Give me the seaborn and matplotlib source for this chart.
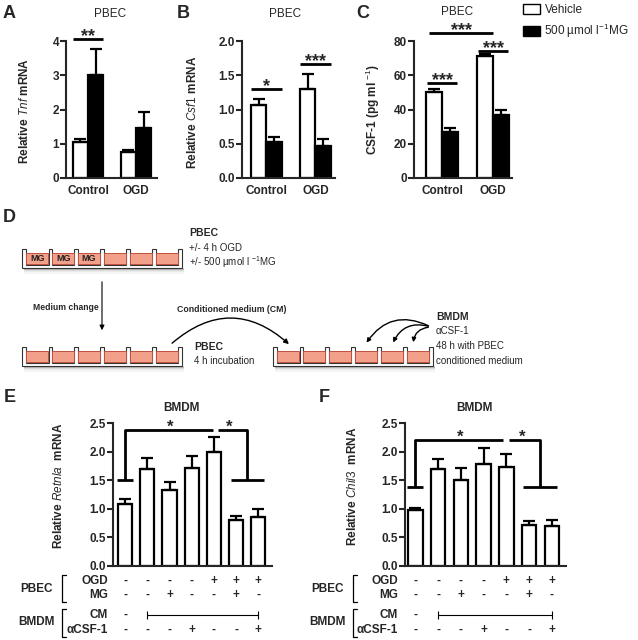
import numpy as np
import pandas as pd
import seaborn as sns
import matplotlib
matplotlib.use('Agg')
import matplotlib.pyplot as plt
from matplotlib.patches import Rectangle, Polygon, FancyArrowPatch, Patch
from matplotlib.transforms import blended_transform_factory

# ---- data ----
groups = ['Control', 'OGD']
treatments = ['Vehicle', 'MG']

# order: Control-Vehicle, Control-MG, OGD-Vehicle, OGD-MG
tnf_mean = [1.05, 3.02, 0.75, 1.45]
tnf_sem = [0.08, 0.75, 0.07, 0.48]
csf1_mean = [1.06, 0.52, 1.30, 0.47]
csf1_sem = [0.10, 0.08, 0.22, 0.10]
csf_prot_mean = [50.0, 27.0, 71.0, 36.5]
csf_prot_sem = [2.0, 2.0, 1.2, 3.5]

bmdm_idx = [0, 1, 2, 3, 4, 5, 6]
retnla_mean = [1.09, 1.69, 1.33, 1.71, 1.99, 0.80, 0.86]
retnla_sem = [0.08, 0.20, 0.13, 0.21, 0.27, 0.07, 0.14]
chil3_mean = [0.98, 1.69, 1.51, 1.79, 1.73, 0.71, 0.70]
chil3_sem = [0.04, 0.18, 0.20, 0.28, 0.22, 0.07, 0.10]

ogd_row = ['-', '-', '-', '-', '+', '+', '+']
mg_row = ['-', '-', '+', '-', '-', '+', '-']
acsf_row = ['-', '-', '-', '+', '-', '-', '+']

sns.set_style('ticks')
plt.rcParams['font.family'] = ['Liberation Sans', 'DejaVu Sans']
plt.rcParams['mathtext.fontset'] = 'custom'
plt.rcParams['mathtext.rm'] = 'Liberation Sans'
plt.rcParams['mathtext.it'] = 'Liberation Sans:italic'
plt.rcParams['mathtext.bf'] = 'Liberation Sans:bold'

W, H = 638, 640
fig = plt.figure(figsize=(W / 100, H / 100), dpi=100)

# overlay in pixel coordinates for schematic / annotations
ov = fig.add_axes([0, 0, 1, 1], zorder=5)
ov.set_xlim(0, W)
ov.set_ylim(H, 0)
ov.axis('off')
ov.patch.set_alpha(0)


def ax_px(left, top, right, bottom):
    return fig.add_axes([left / W, 1 - bottom / H, (right - left) / W, (bottom - top) / H])


def style(ax, yticks, fmt):
    sns.despine(ax=ax)
    for s in ['left', 'bottom']:
        ax.spines[s].set_linewidth(1.5)
    ax.set_yticks(yticks)
    ax.set_yticklabels([fmt.format(v) for v in yticks], fontsize=8.5, fontweight='bold')
    ax.tick_params(axis='y', length=4, width=1.5, pad=1)
    ax.tick_params(axis='x', length=0, pad=5)
    ax.set_xlabel('')


def pair_bars(ax, values, sems):
    df = pd.DataFrame({'group': np.repeat(groups, 2), 'treat': treatments * 2, 'val': values})
    sns.barplot(df, x='group', y='val', hue='treat', hue_order=treatments,
                palette={'Vehicle': 'white', 'MG': 'black'}, edgecolor='black',
                linewidth=1.6, width=0.64, errorbar=None, legend=False, ax=ax)
    ps = sorted(ax.patches, key=lambda p: p.get_x())
    xs = [p.get_x() + p.get_width() / 2 for p in ps]
    ax.errorbar(xs, values, yerr=[np.zeros(len(values)), sems], fmt='none',
                ecolor='black', elinewidth=1.6, capsize=4.5, capthick=1.6)
    for lab in ax.get_xticklabels():
        lab.set_fontsize(8.5)
        lab.set_fontweight('bold')


def stars(ax, x, y, txt, size=13):
    ax.annotate(txt, (x, y), xytext=(0, -1.2), textcoords='offset points', ha='center',
                va='baseline', fontsize=size, fontweight='bold', annotation_clip=False)


def sig(ax, x1, x2, y, txt):
    ax.plot([x1, x2], [y, y], color='black', lw=2, clip_on=False, solid_capstyle='butt')
    stars(ax, (x1 + x2) / 2, y, txt)


def set_ylab(ax, text, box, xpx, ypx):
    left, top, right, bottom = box
    ax.set_ylabel(text, fontsize=8.5, fontweight='bold')
    ax.yaxis.set_label_coords((xpx - left) / (right - left), (bottom - ypx) / (bottom - top))


# ---- panel A ----
boxA = (66, 41, 157, 178)
axA = ax_px(*boxA)
pair_bars(axA, tnf_mean, tnf_sem)
axA.set_xlim(-0.46, 1.44)
axA.set_ylim(0, 4)
style(axA, [0, 1, 2, 3, 4], '{:.0f}')
set_ylab(axA, r'Relative $\mathit{Tnf}$ mRNA', boxA, 31, 111)
sig(axA, -0.31, 0.31, 4.05, '**')

# ---- panel B ----
boxB = (242, 41, 335, 178)
axB = ax_px(*boxB)
pair_bars(axB, csf1_mean, csf1_sem)
axB.set_xlim(-0.5, 1.40)
axB.set_ylim(0, 2)
style(axB, [0, 0.5, 1.0, 1.5, 2.0], '{:.1f}')
set_ylab(axB, r'Relative $\mathit{Csf1}$ mRNA', boxB, 199, 112)
sig(axB, -0.32, 0.32, 1.30, '*')
sig(axB, 0.68, 1.32, 1.66, '***')

# ---- panel C ----
boxC = (414, 41, 512, 178)
axC = ax_px(*boxC)
pair_bars(axC, csf_prot_mean, csf_prot_sem)
axC.set_xlim(-0.55, 1.37)
axC.set_ylim(0, 80)
style(axC, [0, 20, 40, 60, 80], '{:.0f}')
set_ylab(axC, r'CSF-1 (pg ml $^{-1}$)', boxC, 382, 110)
sig(axC, -0.3, 0.3, 55.5, '***')
sig(axC, 0.7, 1.3, 74.0, '***')
sig(axC, -0.25, 1.0, 84.7, '***')

fig.legend([Patch(fc='white', ec='black', lw=1), Patch(fc='black', ec='black')],
           ['Vehicle', r'500 µmol l$^{-1}$MG'], loc='upper left',
           bbox_to_anchor=(512 / W, 1.01), frameon=False, fontsize=8.5,
           handlelength=1.5, handleheight=0.9, handletextpad=0.35, labelspacing=0.5)

# titles and panel letters
for x, y, t in [(110, 14, 'PBEC'), (285, 14, 'PBEC'), (457, 12, 'PBEC')]:
    ov.text(x, y, t, ha='center', va='center', fontsize=8.5)
for x, y, t in [(181, 408, 'BMDM'), (474, 408, 'BMDM')]:
    ov.text(x, y, t, ha='center', va='center', fontsize=8.5, fontweight='bold')
for x, y, t in [(3, 13, 'A'), (177, 13, 'B'), (356, 13, 'C'), (3, 218, 'D'),
                (4, 397, 'E'), (319, 397, 'F')]:
    ov.text(x, y, t, ha='left', va='center', fontsize=13, fontweight='bold')


# ---- panel D schematic ----
def plate(x0, y0, mg_wells=0):
    pw, ph, wall, div, nw = 160, 19, 4, 3.4, 6
    ww = (pw - 2 * wall - (nw - 1) * div) / nw
    floor = y0 + 15.5
    for k, a in enumerate([0.35, 0.25, 0.15, 0.07]):
        ov.add_patch(Rectangle((x0 + 2, y0 + ph + k * 1.3), pw, 1.6, fc='0.45',
                               ec='none', alpha=a))
    pts = [(x0, y0), (x0, y0 + ph), (x0 + pw, y0 + ph), (x0 + pw, y0)]
    for i in range(nw - 1, -1, -1):
        xl = x0 + wall + i * (ww + div)
        pts += [(xl + ww, y0), (xl + ww, floor), (xl, floor), (xl, y0)]
    ov.add_patch(Polygon(pts, closed=True, fc='white', ec='#333333', lw=0.8))
    for i in range(nw):
        xl = x0 + wall + i * (ww + div)
        ov.add_patch(Rectangle((xl + 0.4, y0 + 4), ww - 0.8, floor - y0 - 4.4,
                               fc='#f2a08a', ec='#c0503d', lw=0.7))
        if i < mg_wells:
            ov.text(xl + ww / 2, y0 + 9.8, 'MG', ha='center', va='center',
                    fontsize=6.5, fontweight='bold', color='#222222')


plate(22, 249, mg_wells=3)
plate(22, 347)
plate(273, 347)

ov.text(189, 233, 'PBEC', fontsize=7.5, fontweight='bold', va='center')
ov.text(189, 248, '+/- 4 h OGD', fontsize=7, va='center')
ov.text(189, 262, r'+/- 500 µmol l $^{-1}$MG', fontsize=7, va='center')
ov.text(33, 308, 'Medium change', fontsize=6.2, fontweight='bold', va='center')
ov.text(177, 309, 'Conditioned medium (CM)', fontsize=6.3, fontweight='bold', va='center')
ov.text(194, 347, 'PBEC', fontsize=7.5, fontweight='bold', va='center')
ov.text(194, 361, '4 h incubation', fontsize=7, va='center')
ov.text(436, 317, 'BMDM', fontsize=7.5, fontweight='bold', va='center')
ov.text(436, 331, 'αCSF-1', fontsize=7, va='center')
ov.text(436, 346, '48 h with PBEC', fontsize=7, va='center')
ov.text(436, 361, 'conditioned medium', fontsize=7, va='center')

ov.add_patch(FancyArrowPatch((102, 279), (102, 333), arrowstyle='-|>', mutation_scale=7,
                             color='black', lw=0.8))
ov.add_patch(FancyArrowPatch((170, 345), (291, 346), connectionstyle='arc3,rad=-0.45',
                             arrowstyle='-|>', mutation_scale=7, color='black', lw=1))
for tx in [365, 392, 413]:
    ov.add_patch(FancyArrowPatch((431, 327), (tx, 345), connectionstyle='arc3,rad=0.45',
                                 arrowstyle='-|>', mutation_scale=6, color='black', lw=1))


# ---- panels E, F ----
def bmdm_panel(box, xlim, means, sems, ylab, labx, br1, br2, star1, star2, ybr, ylow):
    ax = ax_px(*box)
    df = pd.DataFrame({'cond': bmdm_idx, 'val': means})
    sns.barplot(df, x='cond', y='val', color='white', edgecolor='black', linewidth=1.6,
                width=0.64, errorbar=None, ax=ax)
    ax.errorbar(bmdm_idx, means, yerr=[np.zeros(7), sems], fmt='none', ecolor='black',
                elinewidth=1.6, capsize=4.5, capthick=1.6)
    ax.set_xlim(*xlim)
    ax.set_ylim(0, 2.5)
    style(ax, [0, 0.5, 1.0, 1.5, 2.0, 2.5], '{:.1f}')
    ax.set_xticks([])
    set_ylab(ax, ylab, box, labx, 486)
    kw = dict(color='black', lw=2, clip_on=False, solid_capstyle='butt')
    # left bracket
    ax.plot([-0.35, 0.35], [ylow, ylow], **kw)
    ax.plot([0, 0, br1], [ylow, ybr, ybr], **kw)
    stars(ax, star1, ybr, '*', 12)
    # right bracket
    ax.plot([br2[0], br2[1], br2[1]], [ybr, ybr, ylow], **kw)
    ax.plot([br2[1] - 0.75, br2[1] + 0.75], [ylow, ylow], **kw)
    stars(ax, star2, ybr, '*', 12)

    tr = blended_transform_factory(ax.transData, ov.transData)
    for row, ypx in [(ogd_row, 581), (mg_row, 595), (acsf_row, 630)]:
        for i, s in zip(bmdm_idx, row):
            ax.text(i, ypx, s, transform=tr, ha='center', va='center', fontsize=8.5,
                    fontweight='bold', clip_on=False)
    ax.text(0, 615, '-', transform=tr, ha='center', va='center', fontsize=8.5,
            fontweight='bold', clip_on=False)
    ax.plot([1, 6], [615, 615], transform=tr, color='black', lw=0.8, clip_on=False,
            marker='|', markersize=6, markeredgewidth=0.8)
    return ax


bmdm_panel((113, 423, 272, 566), (-0.55, 6.62), retnla_mean, retnla_sem,
           r'Relative $\mathit{Retnla}$  mRNA', 65, 3.95, (4.2, 5.5), 2.05, 4.7, 2.38, 1.5)
bmdm_panel((405, 423, 566, 566), (-0.45, 6.62), chil3_mean, chil3_sem,
           r'Relative $\mathit{Chil3}$  mRNA', 359, 3.86, (4.12, 5.48), 1.97, 4.69, 2.2, 1.386)

# table row labels and brackets
for lab_r, brx in [(108, 62), (398, 353)]:
    for t, ypx in [('OGD', 581), ('MG', 595), ('CM', 615), ('αCSF-1', 630)]:
        ov.text(lab_r, ypx, t, ha='right', va='center', fontsize=8.5, fontweight='bold')
    ov.text(brx - 9, 589, 'PBEC', ha='right', va='center', fontsize=8.5, fontweight='bold')
    ov.text(brx - 7, 622, 'BMDM', ha='right', va='center', fontsize=8.5, fontweight='bold')
    ov.plot([brx + 4, brx, brx, brx + 4], [575, 575, 602, 602], color='black', lw=0.9)
    ov.plot([brx + 4, brx, brx, brx + 4], [609, 609, 637, 637], color='black', lw=0.9)

fig.savefig('out.png', dpi=100)
